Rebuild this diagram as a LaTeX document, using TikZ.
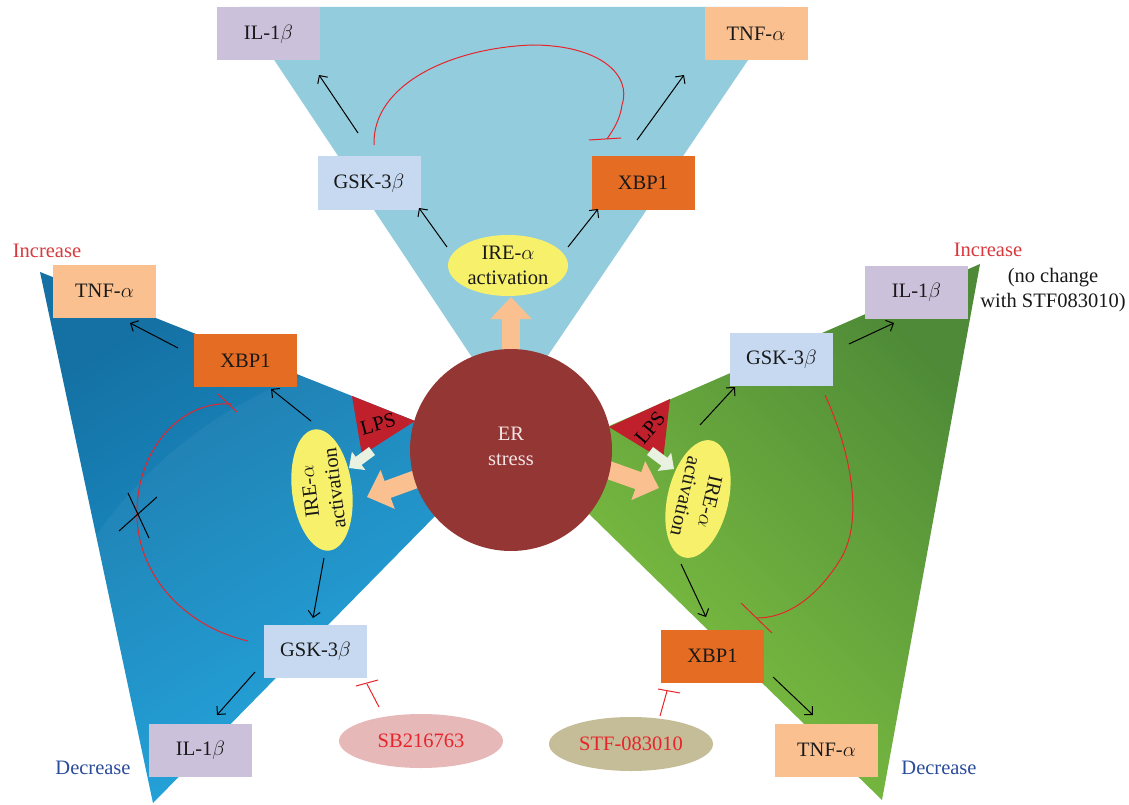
\documentclass[tikz,border=0pt]{standalone}
\usepackage{fontspec}
\setmainfont{Liberation Serif}
\usetikzlibrary{arrows.meta,calc,shapes.geometric}
\definecolor{topblue}{HTML}{93CDDD}
\definecolor{blueD}{HTML}{1570A3}
\definecolor{blueL}{HTML}{1BA3DD}
\definecolor{greenL}{HTML}{80C342}
\definecolor{greenD}{HTML}{4E8A37}
\definecolor{erc}{HTML}{943634}
\definecolor{lpsc}{HTML}{C0202B}
\definecolor{peach}{HTML}{FAC090}
\definecolor{ireY}{HTML}{F7F06B}
\definecolor{lav}{HTML}{CCC1DA}
\definecolor{gskc}{HTML}{C6D9F1}
\definecolor{xbpc}{HTML}{E46C23}
\definecolor{sbc}{HTML}{E6B9B8}
\definecolor{stfc}{HTML}{C4BD97}
\definecolor{inhred}{HTML}{E8242B}
\definecolor{incred}{HTML}{D9383D}
\definecolor{decblue}{HTML}{2B4C9B}
\definecolor{lightarr}{HTML}{E9F1E1}
\definecolor{ertext}{HTML}{F3E4E4}
\newcommand\myfs{\fontsize{20.5}{25}\selectfont}
\begin{document}
\begin{tikzpicture}[x=1pt,y=-1pt,
  box/.style={minimum width=103pt,minimum height=53pt,inner sep=0pt,font=\myfs,text=black!90},
  ireshape/.style={ellipse,fill=ireY,inner sep=0pt},
  iretext/.style={font=\myfs,align=center,text=black!90,inner sep=0pt},
  act/.style={-{Straight Barb[length=6pt,width=12pt]},line width=1pt,black},
  inh/.style={line width=1pt,inhred},
  fat/.style={peach,line width=18pt,-{Triangle[length=22pt,width=40pt]}},
  thin/.style={lightarr,line width=10pt,-{Triangle[length=12pt,width=22pt]}},
  lbl/.style={font=\myfs,inner sep=0pt}]
\useasboundingbox (0,0) rectangle (1129,805);
\fill[white] (0,0) rectangle (1129,805);

% background wedges
\fill[topblue] (239,7) -- (784,7) -- (509,413) -- cycle;
\shade[top color=blueD,bottom color=blueL,shading angle=30]
  (40,272) -- (425,425) -- (450,470) -- (440,511) -- (153,803) -- cycle;
\begin{scope}
  \clip (40,272) -- (425,425) -- (450,470) -- (440,511) -- (153,803) -- cycle;
  \fill[white,opacity=0.045] (450,780) circle (430pt);
\end{scope}
\shade[top color=greenD,bottom color=greenL,shading angle=-45]
  (600,430) -- (980,264) -- (882,800) -- (585,510) -- cycle;

% LPS triangles
\fill[lpsc] (352,396) -- (415,421) -- (362,455) -- cycle;
\node[lbl,rotate=15] (lpsL) at (378,424) {LPS};
\fill[lpsc] (609,427) -- (670,399) -- (663,460) -- cycle;
\node[lbl,rotate=50] (lpsR) at (650,428) {LPS};

% block arrows
\coordinate (upB) at (511,370);
\coordinate (upT) at (511,297);
\coordinate (lfB) at (430,474);
\coordinate (lfT) at (367,497);
\coordinate (rtB) at (600,467);
\coordinate (rtT) at (659,488);
\draw[fat] (upB) -- (upT);
\draw[fat] (lfB) -- (lfT);
\draw[fat] (rtB) -- (rtT);
\coordinate (slB) at (372,451);
\coordinate (slT) at (349,468);
\coordinate (srB) at (650,451);
\coordinate (srT) at (674,469);
\draw[thin] (slB) -- (slT);
\draw[thin] (srB) -- (srT);

% ER stress circle
\node[circle,fill=erc,minimum size=202pt,inner sep=0pt] (er) at (511,450) {};
\node[lbl,align=center,text=ertext] (ertxt) at (511,446) {ER\\stress};

% IRE ellipses
\node[ireshape,minimum width=120pt,minimum height=61pt] (ireT) at (508,265.5) {};
\node[iretext] at (ireT) {IRE-$\alpha$\\activation};
\node[ireshape,rotate=97,minimum width=122pt,minimum height=60pt] (ireL) at (322,490) {};
\node[iretext,rotate=97] at (ireL) {IRE-$\alpha$\\activation};
\node[ireshape,rotate=-103,minimum width=120pt,minimum height=61pt] (ireR) at (698,499) {};
\node[iretext,rotate=-103] at (ireR) {IRE-$\alpha$\\activation};

% boxes
\node[box,fill=lav] (ilT) at (268.5,34) {IL-1$\beta$};
\node[box,fill=peach] (tnfT) at (756,34) {TNF-$\alpha$};
\node[box,fill=gskc] (gskT) at (369,183) {GSK-3$\beta$};
\node[box,fill=xbpc] (xbpT) at (643,183) {XBP1};
\node[box,fill=peach] (tnfL) at (104.5,291) {TNF-$\alpha$};
\node[box,fill=xbpc] (xbpL) at (245.5,360.5) {XBP1};
\node[box,fill=gskc] (gskL) at (315.5,651) {GSK-3$\beta$};
\node[box,fill=lav] (ilL) at (200.5,750) {IL-1$\beta$};
\node[box,fill=lav] (ilR) at (916.5,292) {IL-1$\beta$};
\node[box,fill=gskc] (gskR) at (781.5,359) {GSK-3$\beta$};
\node[box,fill=xbpc] (xbpR) at (712.5,656) {XBP1};
\node[box,fill=peach] (tnfR) at (826.5,750) {TNF-$\alpha$};

% inhibitor ellipses
\node[ellipse,fill=sbc,minimum width=164pt,minimum height=54pt,inner sep=0pt,font=\myfs,text=inhred] (sb) at (421,741) {SB216763};
\node[ellipse,fill=stfc,minimum width=164pt,minimum height=54pt,inner sep=0pt,font=\myfs,text=inhred] (stf) at (631,744) {STF-083010};

% activation arrows (top)
\coordinate (a1s) at (447,247); \coordinate (a1e) at (419,208);
\coordinate (a2s) at (568,247); \coordinate (a2e) at (598,209);
\coordinate (a3s) at (358,133); \coordinate (a3e) at (319,75);
\coordinate (a4s) at (637,140); \coordinate (a4e) at (684,75);
\draw[act] (a1s) -- (a1e);
\draw[act] (a2s) -- (a2e);
\draw[act] (a3s) -- (a3e);
\draw[act] (a4s) -- (a4e);
% left
\coordinate (b1s) at (178,348); \coordinate (b1e) at (130,323);
\coordinate (b2s) at (311,421); \coordinate (b2e) at (271,389);
\coordinate (b3s) at (324,558); \coordinate (b3e) at (313,618);
\coordinate (b4s) at (255,672); \coordinate (b4e) at (217,715);
\draw[act] (b1s) -- (b1e);
\draw[act] (b2s) -- (b2e);
\draw[act] (b3s) -- (b3e);
\draw[act] (b4s) -- (b4e);
% right
\coordinate (c1s) at (849,344); \coordinate (c1e) at (894,323);
\coordinate (c2s) at (700,425); \coordinate (c2e) at (735,387);
\coordinate (c3s) at (681,564); \coordinate (c3e) at (706,617);
\coordinate (c4s) at (773,677); \coordinate (c4e) at (813,715);
\draw[act] (c1s) -- (c1e);
\draw[act] (c2s) -- (c2e);
\draw[act] (c3s) -- (c3e);
\draw[act] (c4s) -- (c4e);

% inhibition curves
\coordinate (t0) at (374,145); \coordinate (t1) at (532,45);
\coordinate (t2) at (622,105); \coordinate (t3) at (607,139);
\draw[inh] (t0) .. controls (372,85) and (450,48) .. (t1)
  .. controls (600,45) and (632,75) .. (t2)
  .. controls (620,120) and (613,130) .. (t3);
\draw[inh] (589,140) -- (621,138);
\coordinate (l0) at (248,641); \coordinate (l1) at (137,510); \coordinate (l2) at (232,404);
\draw[inh] (l0) .. controls (180,625) and (135,570) .. (l1)
  .. controls (138,450) and (180,400) .. (l2);
\draw[inh] (218,394) -- (237,412);
\coordinate (r0) at (825,395); \coordinate (r1) at (840,560); \coordinate (r2) at (757,618);
\draw[inh] (r0) .. controls (850,450) and (865,520) .. (r1)
  .. controls (815,600) and (785,618) .. (r2);
\draw[inh] (741,603) -- (772,633);
\coordinate (sbs) at (379,707); \coordinate (sbe) at (367,684);
\draw[inh] (sbs) -- (sbe);
\draw[inh] (356,686) -- (378,680);
\coordinate (sts) at (660,716); \coordinate (ste) at (667,691);
\draw[inh] (sts) -- (ste);
\draw[inh] (658,689) -- (680,693);
% X mark
\draw[line width=1pt,black] (128,493) -- (149,538);
\draw[line width=1pt,black] (119,531) -- (157,497);

% labels
\node[lbl,text=incred] (incL) at (47,251) {Increase};
\node[lbl,text=incred] (incR) at (988,250) {Increase};
\node[lbl,align=center,text=black!90] (nochg) at (1053,290) {(no change\\with STF083010)};
\node[lbl,text=decblue] (decL) at (93,768) {Decrease};
\node[lbl,text=decblue] (decR) at (939,768) {Decrease};
\end{tikzpicture}
\end{document}
